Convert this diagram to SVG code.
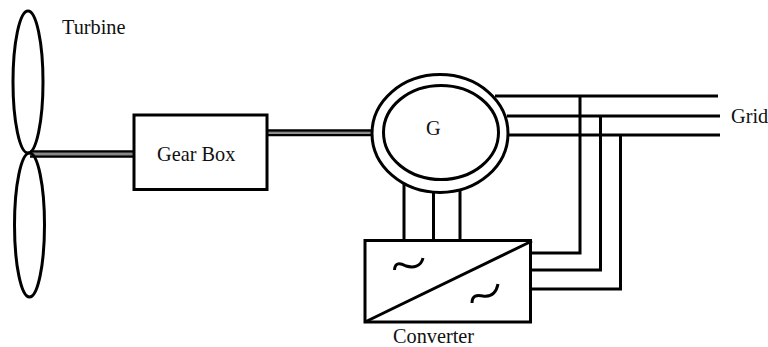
<svg xmlns="http://www.w3.org/2000/svg" width="768" height="347" viewBox="0 0 768 347">
<style>
.s{fill:none;stroke:#000;stroke-width:3}
.w{fill:#fff;stroke:#000;stroke-width:3}
.b{fill:none;stroke:#000;stroke-width:2.500}
.g{fill:none;stroke:#888;stroke-width:2}
.t{font-family:"Liberation Serif","Times New Roman",serif;font-size:20.300px;fill:#111}
</style>
<rect width="768" height="347" fill="#fff"/>
<g id="connectors">
<path class="g" d="M30 154H133"/>
<path class="b" d="M30 151.500H133M30 156.500H133"/>
<path class="g" d="M268 132.500H372"/>
<path class="b" d="M268 130.500H372M268 135H372"/>
<path class="s" d="M495 96H718M507 116H720M509 135H720"/>
<path class="s" d="M580 96V253H531M600.500 116V270H531M620.500 135V289H531"/>
<path class="s" d="M404 184V240M433.500 192V240M460 191V240"/>
</g>
<g id="turbine">
<ellipse class="s" cx="28" cy="82" rx="15" ry="71"/>
<ellipse class="s" cx="29.500" cy="225" rx="15" ry="72"/>
<text class="t" x="62" y="34">Turbine</text>
</g>
<g id="gearbox">
<rect class="w" x="134" y="115" width="133" height="74.500"/>
<text class="t" x="157" y="161">Gear Box</text>
</g>
<g id="generator">
<ellipse class="s" cx="440" cy="133.500" rx="68" ry="59"/>
<ellipse class="s" cx="441" cy="132.500" rx="57.500" ry="47"/>
<text class="t" x="426" y="135">G</text>
</g>
<g id="converter">
<rect class="w" x="365" y="240.500" width="165.500" height="81.500"/>
<path class="s" d="M365 322L532 241"/>
<path class="s" d="M394.500 270C395 262 400 263 406 266C413 268 421 267 423 258"/>
<path class="s" d="M472 303C472 295 477 295 483 296C490 297 496 294 498 284"/>
<text class="t" x="393" y="342.500">Converter</text>
</g>
<g id="grid">
<text class="t" x="731" y="123">Grid</text>
</g>
</svg>
